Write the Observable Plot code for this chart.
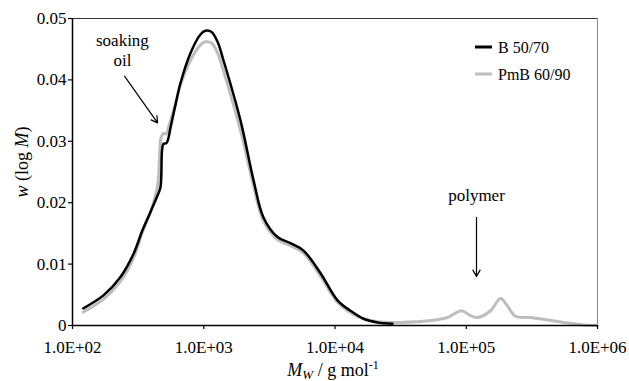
<!DOCTYPE html>
<html>
<head>
<meta charset="utf-8">
<script src="https://cdn.jsdelivr.net/npm/d3@7"></script>
<script src="https://cdn.jsdelivr.net/npm/@observablehq/plot@0.6"></script>
<style>
  html, body { margin: 0; padding: 0; background: white; }
  svg text, svg tspan { font-family: "Liberation Serif", serif; }
</style>
</head>
<body>
<div id="chart"></div>
<script>
// Molar mass (g/mol) and w(log M) values
const mB = [121, 172, 232, 292, 341, 393, 445, 468, 481, 493, 520, 538, 558, 610, 665, 793, 944, 1030, 1148, 1274, 1413, 1905, 2393, 2851, 3648, 4581, 5754, 7762, 10447, 13122, 16482, 21086, 27416];
const wB = [0.0028, 0.0049, 0.0079, 0.0117, 0.0155, 0.0185, 0.0212, 0.0225, 0.0285, 0.0296, 0.0297, 0.0305, 0.0322, 0.0360, 0.0395, 0.0444, 0.0474, 0.0480, 0.0478, 0.0462, 0.0432, 0.0334, 0.0237, 0.0176, 0.0144, 0.0134, 0.0122, 0.0085, 0.0041, 0.0024, 0.0011, 0.0005, 0.0003];

const mP = [121, 172, 232, 292, 341, 393, 445, 460, 472, 493, 520, 538, 610, 665, 793, 944, 1030, 1148, 1274, 1413, 1905, 2393, 2851, 3648, 4581, 5754, 7762, 10447, 13122, 16482, 21086, 31623, 53456, 71945, 92045, 105925, 121899, 153109, 182390, 206063, 237137, 309030, 550808, 781628, 1000000];
const wP = [0.0022, 0.0043, 0.0072, 0.0110, 0.0152, 0.0185, 0.0228, 0.0270, 0.0305, 0.0313, 0.0312, 0.0322, 0.0362, 0.0392, 0.0432, 0.0457, 0.0462, 0.0460, 0.0444, 0.0415, 0.0318, 0.0228, 0.0170, 0.0140, 0.0130, 0.0118, 0.0080, 0.0038, 0.0021, 0.0011, 0.0006, 0.0005, 0.0008, 0.0013, 0.0024, 0.0017, 0.0013, 0.0024, 0.0044, 0.0032, 0.0015, 0.0013, 0.0005, 0.0001, 0.0];

const seriesNames = ["B 50/70", "PmB 60/90"];
const seriesColors = ["#000000", "#bdbdbd"];

const xTicks = [1e2, 1e3, 1e4, 1e5, 1e6];
const yTicks = [0, 0.01, 0.02, 0.03, 0.04, 0.05];

// annotations (data units)
const annotLabels = ["soaking\noil", "polymer"];
const annotTextM = [240, 119700];
const annotTextW = [0.04225, 0.0202];
const arrowM1 = [249, 119700];
const arrowW1 = [0.0406, 0.0176];
const arrowM2 = [445, 119700];
const arrowW2 = [0.0330, 0.0080];

const dataB = mB.map((m, i) => ({M: m, w: wB[i]}));
const dataP = mP.map((m, i) => ({M: m, w: wP[i]}));
const annotText = annotLabels.map((t, i) => ({t, M: annotTextM[i], w: annotTextW[i]}));
const arrows = arrowM1.map((m, i) => ({x1: m, y1: arrowW1[i], x2: arrowM2[i], y2: arrowW2[i]}));

const xFmt = d => "1.0E+" + String(Math.round(Math.log10(d))).padStart(2, "0");
const yFmt = d => d === 0 ? "0" : d.toFixed(2);
const SERIF = "Liberation Serif";

const plot = Plot.plot({
  width: 629,
  height: 381,
  marginLeft: 72,
  marginRight: 32,
  marginTop: 18,
  marginBottom: 56,
  style: {fontSize: "17px", background: "white", color: "black", overflow: "visible"},
  x: {type: "log", domain: [100, 1e6]},
  y: {domain: [0, 0.05]},
  marks: [
    Plot.ruleY([0.05], {stroke: "#333", strokeWidth: 1}),
    Plot.ruleX([1e6], {stroke: "#888", strokeWidth: 1}),
    Plot.line(dataP, {x: "M", y: "w", stroke: seriesColors[1], strokeWidth: 3, curve: "catmull-rom"}),
    Plot.line(dataB, {x: "M", y: "w", stroke: seriesColors[0], strokeWidth: 2.5, curve: "catmull-rom"}),
    Plot.ruleY([0], {stroke: "black", strokeWidth: 1.5}),
    Plot.ruleX([100], {stroke: "black", strokeWidth: 1.5}),
    Plot.axisX({ticks: xTicks, tickFormat: xFmt, tickSize: 4, tickPadding: 11, label: null, fontSize: 17, strokeWidth: 1.2}),
    Plot.axisY({ticks: yTicks, tickFormat: yFmt, tickSize: 4, tickPadding: 2, label: null, fontSize: 17, strokeWidth: 1.2}),
    Plot.text(annotText, {x: "M", y: "w", text: "t", lineAnchor: "bottom", lineHeight: 1.2, fontSize: 17, fill: "black"}),
    Plot.arrow(arrows, {x1: "x1", y1: "y1", x2: "x2", y2: "y2", stroke: "black", strokeWidth: 1.2, headLength: 9})
  ]
});

const svg = d3.select(plot);
// Legend
const legend = svg.append("g").attr("font-size", 16).attr("text-anchor", "start");
seriesNames.forEach((name, i) => {
  const y = 47 + i * 27;
  legend.append("line").attr("x1", 475).attr("x2", 492).attr("y1", y).attr("y2", y)
    .attr("stroke", seriesColors[i]).attr("stroke-width", 3);
  legend.append("text").attr("x", 498).attr("y", y).attr("dy", "0.35em").attr("fill", "black").text(name);
});

// Y axis title
const yt = svg.append("text").attr("transform", "translate(28,162) rotate(-90)")
  .attr("text-anchor", "middle").attr("font-size", 18).attr("fill", "black");
yt.append("tspan").attr("font-style", "italic").text("w");
yt.append("tspan").text(" (log ");
yt.append("tspan").attr("font-style", "italic").text("M");
yt.append("tspan").text(")");

// X axis title
const xt = svg.append("text").attr("x", 333).attr("y", 376)
  .attr("text-anchor", "middle").attr("font-size", 18).attr("fill", "black");
xt.append("tspan").attr("font-style", "italic").text("M");
xt.append("tspan").attr("font-style", "italic").attr("font-size", 13).attr("dy", 3).text("W");
xt.append("tspan").attr("dy", -3).text(" / g mol");
xt.append("tspan").attr("font-size", 12).attr("dy", -7).text("-1");

svg.selectAll("text, tspan").style("font-family", SERIF);

document.getElementById("chart").appendChild(plot);
</script>
</body>
</html>
